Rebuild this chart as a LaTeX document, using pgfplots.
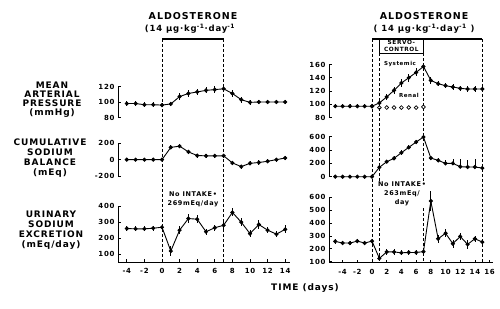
\documentclass[border=0pt]{standalone}
\usepackage{pgfplots}
\pgfplotsset{compat=1.18}
\usepackage{pgfplotstable}
\usepackage{fontspec}
\setmainfont{DejaVu Sans}[LetterSpace=10]

\pgfplotstableread{
d v e
-4 98 3
-3 98 3
-2 96.5 3
-1 96.5 3
0 96 3
1 97.5 3
2 107 4
3 111 4
4 113 4
5 115 4
6 116 4
7 117 4
8 111 4
9 103 4
10 99.5 3
11 100 3
12 100 3
13 100 3
14 100 3
}\lmap
\pgfplotstableread{
d v e
-4 0 15
-3 0 15
-2 0 15
-1 0 15
0 0 15
1 150 25
2 165 25
3 95 25
4 50 25
5 47 25
6 47 25
7 47 25
8 -40 25
9 -85 25
10 -45 25
11 -35 25
12 -20 25
13 0 25
14 20 25
}\lcsb
\pgfplotstableread{
d v e
-4 260 15
-3 258 15
-2 258 15
-1 262 15
0 268 15
1 120 30
2 250 25
3 322 30
4 318 25
5 240 20
6 265 20
7 280 20
8 360 25
9 300 25
10 228 20
11 285 25
12 250 20
13 225 20
14 255 25
}\luna
\pgfplotstableread{
d v e
-5 97 3
-4 97 3
-3 97 3
-2 97 3
-1 97 3
0 97 3
1 102 4
2 111 5
3 121 5
4 132 6
5 140 6
6 148 6
7 157 5
8 136 5
9 131 4
10 128 4
11 126 4
12 124 4
13 123 4
14 123 4
15 123 4
}\rmap
\pgfplotstableread{
d v
0 97
1 95
2 95
3 95
4 95
5 95
6 95
7 96
}\rren
\pgfplotstableread{
d v ep em
-5 0 15 15
-4 0 15 15
-3 0 15 15
-2 0 15 15
-1 0 15 15
0 0 15 15
1 140 25 25
2 225 25 25
3 275 30 30
4 360 40 30
5 440 35 30
6 520 30 30
7 595 25 25
8 280 30 30
9 245 30 30
10 200 50 20
11 200 60 20
12 150 110 20
13 145 110 20
14 145 120 20
15 130 20 20
}\rcsb
\pgfplotstableread{
d v e
-5 258 20
-4 245 15
-3 245 15
-2 260 15
-1 245 15
0 260 20
1 126 20
2 176 20
3 176 20
4 169 20
5 172 20
6 172 20
7 178 20
8 571 80
9 278 30
10 321 30
11 240 30
12 296 30
13 235 35
14 278 25
15 253 20
}\runa

\pgfplotsset{
  base/.style={scale only axis, clip=false,
    tick align=inside, major tick length=3pt,
    axis line style={line width=0.8pt},
    every tick/.style={black, line width=0.8pt},
    tick label style={font=\bfseries\fontsize{7}{8}\selectfont},
    /pgf/number format/assume math mode=true},
  panel/.style={base, axis y line*=left, axis x line=none},
  bpanel/.style={base, axis x line*=bottom, axis y line*=left, xticklabel style={yshift=-3pt}},
  ser/.style={black, line width=0.9pt, mark=*, mark size=1.6pt,
    mark options={solid, fill=black},
    error bars/y dir=both, error bars/y explicit, error bars/error mark=none,
    error bars/error bar style={line width=0.7pt}},
}

\begin{document}
\begin{tikzpicture}[x=1pt,y=1pt]
\useasboundingbox (0,0) rectangle (500pt,308pt);

% ---------- left column ----------
\begin{axis}[panel, at={(118pt,190.5pt)}, anchor=south west, width=171.6pt, height=31pt,
  xmin=-5, xmax=14.5, ymin=80, ymax=120, ytick={80,100,120}]
\addplot[ser] table[x=d, y=v, y error=e] {\lmap};
\end{axis}
\begin{axis}[panel, at={(118pt,132pt)}, anchor=south west, width=171.6pt, height=32.7pt,
  xmin=-5, xmax=14.5, ymin=-200, ymax=200, ytick={-200,0,200}]
\addplot[ser] table[x=d, y=v, y error=e] {\lcsb};
\end{axis}
\begin{axis}[bpanel, at={(118pt,46pt)}, anchor=south west, width=171.6pt, height=56pt,
  xmin=-5, xmax=14.5, ymin=52, ymax=400, ytick={100,200,300,400}, xtick={-4,-2,...,14}]
\addplot[ser] table[x=d, y=v, y error=e] {\luna};
\end{axis}

% ---------- right column ----------
\begin{axis}[panel, at={(329pt,190.5pt)}, anchor=south west, width=164pt, height=53pt,
  xmin=-5.85, xmax=16.46, ymin=80, ymax=160, ytick={80,100,...,160}]
\addplot[ser] table[x=d, y=v, y error=e] {\rmap};
\addplot[black, only marks, mark=o, mark size=1.9pt, line width=0.7pt, mark options={fill=white}] table[x=d, y=v] {\rren};
\end{axis}
\begin{axis}[panel, at={(329pt,131.3pt)}, anchor=south west, width=164pt, height=40pt,
  xmin=-5.85, xmax=16.46, ymin=0, ymax=600, ytick={0,200,400,600}]
\addplot[ser] table[x=d, y=v, y error plus=ep, y error minus=em] {\rcsb};
\end{axis}
\begin{axis}[bpanel, at={(329pt,45.5pt)}, anchor=south west, width=164pt, height=65.2pt,
  xmin=-5.85, xmax=16.46, ymin=94, ymax=600, ytick={100,200,...,600}, xtick={-4,-2,...,16}]
\addplot[ser] table[x=d, y=v, y error=e] {\runa};
\end{axis}

% ---------- treatment periods ----------
\begin{scope}[line width=0.7pt, dash pattern=on 3pt off 2pt]
\draw (162pt,269pt) -- (162pt,46pt);
\draw (223.6pt,269pt) -- (223.6pt,46pt);
\draw (372pt,269pt) -- (372pt,46pt);
\draw (482.25pt,269pt) -- (482.25pt,46pt);
\draw (379.35pt,255pt) -- (379.35pt,46pt);
\draw (423.45pt,255pt) -- (423.45pt,46pt);
\end{scope}
\draw[line width=1.6pt] (162pt,269pt) -- (223.6pt,269pt);
\draw[line width=1.6pt] (372pt,269pt) -- (482.25pt,269pt);
\draw[line width=0.8pt, fill=white] (379.35pt,269pt) rectangle (423.45pt,255pt);
\node[align=center, font=\bfseries\fontsize{5.8}{6.3}\selectfont, inner sep=0pt] at (401.4pt,262pt) {SERVO-\\CONTROL};

% ---------- titles ----------
\node[font=\bfseries\fontsize{9.5}{10}\selectfont] at (193pt,292pt) {ALDOSTERONE};
\node[font=\bfseries\fontsize{8.5}{10}\selectfont] at (190pt,279pt) {(14 µg·kg\textsuperscript{-1}·day\textsuperscript{-1}};
\node[font=\bfseries\fontsize{9.5}{10}\selectfont] at (424pt,292pt) {ALDOSTERONE};
\node[font=\bfseries\fontsize{8.5}{10}\selectfont] at (424pt,279pt) {( 14 µg·kg\textsuperscript{-1}·day\textsuperscript{-1} )};

% ---------- annotations ----------
\node[font=\bfseries\fontsize{5.5}{6}\selectfont, fill=white, inner sep=0.5pt] at (400pt,244pt) {Systemic};
\node[font=\bfseries\fontsize{5.5}{6}\selectfont, fill=white, inner sep=0.5pt] at (409pt,213pt) {Renal};
\node[align=center, font=\bfseries\fontsize{6.5}{9}\selectfont, fill=white, inner sep=0.5pt] at (193pt,108.5pt) {No INTAKE•\\269mEq/day};
\node[align=center, font=\bfseries\fontsize{6.5}{9}\selectfont, fill=white, inner sep=0.5pt] at (402pt,114pt) {No INTAKE•\\263mEq/\\day};

% ---------- row labels ----------
\node[align=center, font=\bfseries\fontsize{9}{8.8}\selectfont] at (52pt,208.5pt) {MEAN\\ARTERIAL\\PRESSURE\\(mmHg)};
\node[align=center, font=\bfseries\fontsize{9}{10}\selectfont] at (50pt,149.6pt) {CUMULATIVE\\SODIUM\\BALANCE\\(mEq)};
\node[align=center, font=\bfseries\fontsize{9}{10}\selectfont] at (51pt,77.5pt) {URINARY\\SODIUM\\EXCRETION\\(mEq/day)};

\node[font=\bfseries\fontsize{9}{10}\selectfont] at (305pt,20pt) {TIME (days)};
\end{tikzpicture}
\end{document}
